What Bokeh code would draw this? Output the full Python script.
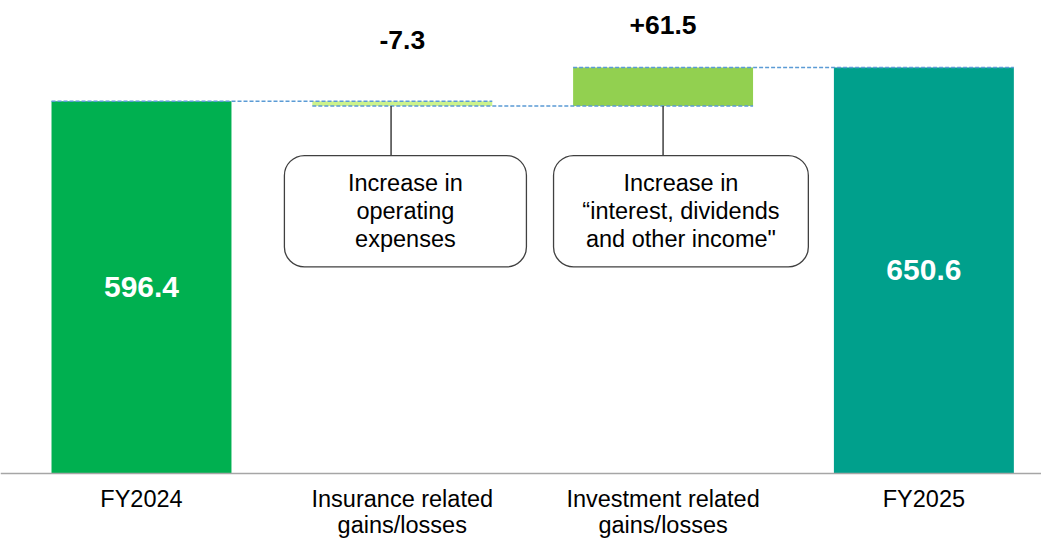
from bokeh.plotting import figure
from bokeh.models import Range1d, Span, ColumnDataSource
from bokeh.core.properties import value
from bokeh.embed import file_html
from bokeh.resources import INLINE

# ---------------- data ----------------
categories = ["FY2024", "Insurance related\ngains/losses",
              "Investment related\ngains/losses", "FY2025"]
start_value = 596.4
changes = [-7.3, 61.5]
end_value = 650.6
start_label = "596.4"
end_label = "650.6"
change_labels = ["-7.3", "+61.5"]
notes = ["Increase in\noperating\nexpenses",
         "Increase in\n\u201cinterest, dividends\nand other income\""]
bar_colors = ["#00B050", "#CCF28C", "#92D050", "#00A08C"]

# ---------------- waterfall geometry ----------------
xs = list(range(len(categories)))
bottoms = [0.0]
tops = [start_value]
levels = [start_value]
running = start_value
for c in changes:
    b, t = running, running + c
    bottoms.append(min(b, t))
    tops.append(max(b, t))
    running += c
    levels.append(running)
bottoms.append(0.0)
tops.append(end_value)

BAR_W = 0.69
FONT = value("Liberation Sans")

p = figure(width=1041, height=539,
           x_range=Range1d(-0.5406, 3.451), y_range=Range1d(-105.76, 757.96),
           x_axis_type=None, y_axis_type=None,
           output_backend="svg", toolbar_location=None, min_border=0)
p.grid.visible = False
p.outline_line_color = None

# bars
src = ColumnDataSource(dict(x=xs, bottom=bottoms, top=tops, color=bar_colors))
p.vbar(x="x", width=BAR_W, bottom="bottom", top="top", fill_color="color",
       line_color=None, source=src)

# dashed connectors (from left edge of bar i to right edge of bar i+1)
p.segment(x0=[xs[i] - BAR_W / 2 for i in range(3)],
          x1=[xs[i + 1] + BAR_W / 2 for i in range(3)],
          y0=levels, y1=levels,
          line_color="#5B9BD5", line_width=1.5, line_dash="4 2")

# baseline axis line
p.add_layout(Span(location=0, dimension="width", line_color="#A6A6A6",
                  line_width=1.5))

# totals inside bars
p.text(x=[xs[0], xs[3]], y=[start_value / 2, end_value / 2],
       text=[start_label, end_label], text_align="center",
       text_baseline="middle", text_color="white", text_font=FONT,
       text_font_size=value("30px"), text_font_style="bold")

# change labels above the step bars
for i, (lab, off) in enumerate(zip(change_labels, [-61, -42])):
    p.text(x=[xs[i + 1]], y=[tops[i + 1]], text=[lab], text_align="center",
           text_baseline="middle", y_offset=off, text_color="black",
           text_font=FONT, text_font_size=value("26.5px"),
           text_font_style="bold")

# annotation callouts
box_top, box_bottom = 509.5, 331.0
box_left = [xs[1] - 0.452, xs[2] - 0.420]
box_right = [xs[1] + 0.476, xs[2] + 0.557]
conn_x = [xs[1] - 0.043, xs[2]]
p.segment(x0=conn_x, x1=conn_x, y0=[bottoms[1], bottoms[2]],
          y1=[box_top, box_top], line_color="#404040", line_width=1.5)
p.quad(left=box_left, right=box_right, top=[box_top] * 2,
       bottom=[box_bottom] * 2, border_radius=20, fill_color="white",
       line_color="#404040", line_width=1.3)
p.text(x=[(l + r) / 2 for l, r in zip(box_left, box_right)],
       y=[(box_top + box_bottom) / 2] * 2, text=notes, text_align="center",
       text_baseline="middle", text_color="black", text_font=FONT,
       text_font_size=value("23.5px"), text_line_height=1.085)

# category labels under the axis
p.text(x=xs, y=[0] * len(xs), text=categories, text_align="center",
       text_baseline="top", y_offset=12, text_color="black",
       text_font=FONT, text_font_size=value("23.5px"),
       text_line_height=1.03)

open("out.html", "w").write(file_html(p, INLINE))
